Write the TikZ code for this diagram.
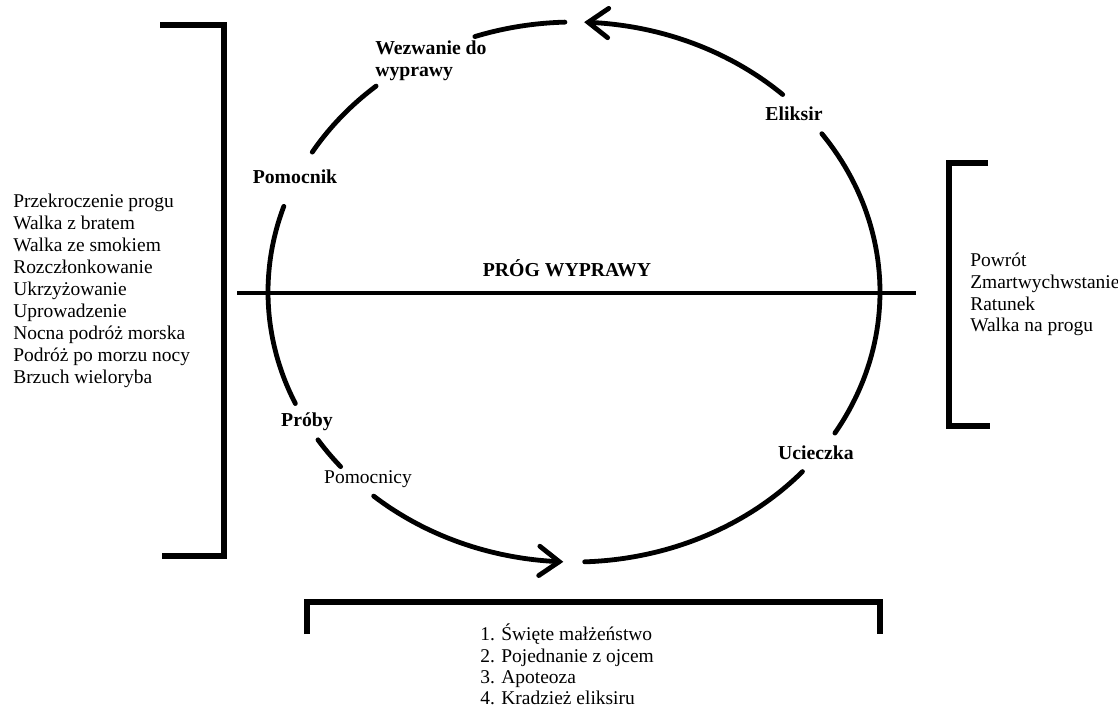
\documentclass[tikz,border=0pt]{standalone}
\usepackage{fontspec}
\setmainfont{Liberation Serif}
\usetikzlibrary{arrows.meta}
\begin{document}
\begin{tikzpicture}[x=0.75pt,y=-0.75pt,
  ring/.style={line width=3.6pt,line cap=round},
  brack/.style={line width=3.8pt,line cap=butt,line join=miter},
  lab/.style={font=\fontsize{14.8}{16.5}\selectfont\bfseries,inner sep=0pt},
  lst/.style={font=\fontsize{14.6}{16.5}\selectfont,inner sep=0pt,align=left,anchor=west},
  tipA/.style={-{Straight Barb[length=15pt,width=22pt,line cap=round]}}]
\useasboundingbox (0,0) rectangle (1118,708);
% ring segments (pixel-down angles)
\def\ell#1#2{plot[domain=#1:#2,samples=50] ({574+306*cos(\x)},{292+270*sin(\x)})}
\draw[ring] \ell{251.1}{268.3};
\draw[ring,tipA] \ell{313}{271.9};
\draw[ring] \ell{-35.9}{31.5};
\draw[ring] \ell{41.7}{88};
\draw[ring,tipA] \ell{130.9}{92};
\draw[ring] \ell{139.7}{146.8};
\draw[ring] \ell{155.6}{198.5};
\draw[ring] \ell{211.2}{229.7};
% threshold line
\coordinate (hl) at (237,293);
\coordinate (hr) at (916,293);
\draw[line width=3.6pt] (hl) -- (hr);
\node[lab] (prog) at (567,268) {PRÓG WYPRAWY};
% stage labels
\node[lab,align=left,anchor=west] (wez) at (375,61) {Wezwanie do\\wyprawy};
\node[lab] (eli) at (794,114) {Eliksir};
\node[lab] (pomk) at (295,177) {Pomocnik};
\node[lab] (proby) at (307,422) {Próby};
\node[font=\fontsize{14.6}{16.5}\selectfont,inner sep=0pt] (pomy) at (368,479) {Pomocnicy};
\node[lab] (ucie) at (816,453) {Ucieczka};
% left bracket
\coordinate (l1) at (160,25);
\coordinate (l2) at (224,25);
\coordinate (l3) at (224,556);
\coordinate (l4) at (162,556);
\draw[brack] (l1) -- (l2) -- (l3) -- (l4);
\node[lst] (llist) at (13,291) {Przekroczenie progu\\Walka z bratem\\Walka ze smokiem\\Rozczłonkowanie\\Ukrzyżowanie\\Uprowadzenie\\Nocna podróż morska\\Podróż po morzu nocy\\Brzuch wieloryba};
% right bracket
\coordinate (r1) at (988,163);
\coordinate (r2) at (949,163);
\coordinate (r3) at (949,426);
\coordinate (r4) at (990,426);
\draw[brack] (r1) -- (r2) -- (r3) -- (r4);
\node[lst,font=\fontsize{14.6}{16.3}\selectfont] (rlist) at (970,294.5) {Powrót\\Zmartwychwstanie\\Ratunek\\Walka na progu};
% bottom bracket
\coordinate (b1) at (307,634);
\coordinate (b2) at (307,602);
\coordinate (b3) at (880,602);
\coordinate (b4) at (880,634);
\draw[brack] (b1) -- (b2) -- (b3) -- (b4);
\node[lst,font=\fontsize{14.6}{16}\selectfont] (blist) at (480,664.5) {1. Święte małżeństwo\\2. Pojednanie z ojcem\\3. Apoteoza\\4. Kradzież eliksiru};
\end{tikzpicture}
\end{document}
